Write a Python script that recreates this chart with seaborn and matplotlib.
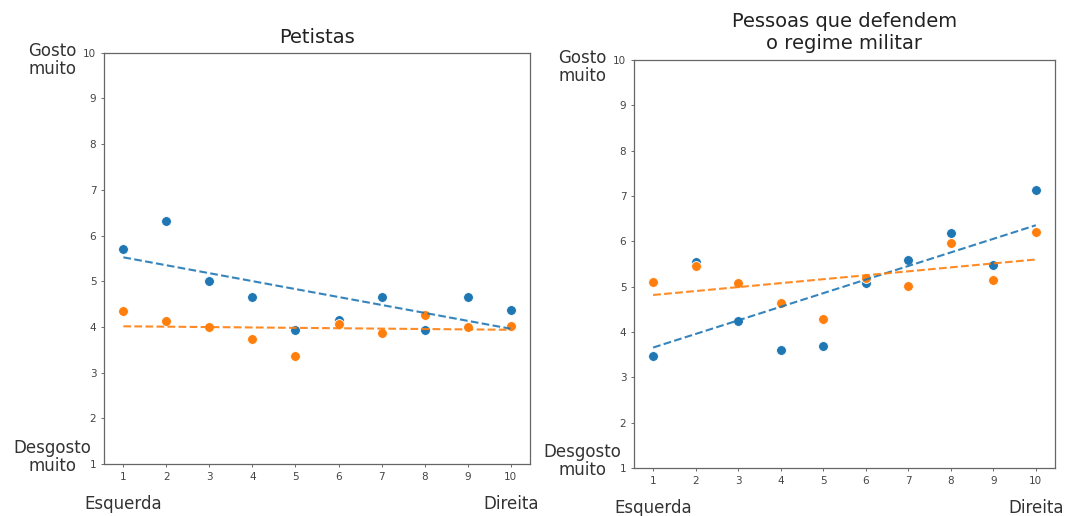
import matplotlib
matplotlib.use("Agg")
import matplotlib.pyplot as plt
import matplotlib.transforms as mtransforms
import seaborn as sns
import numpy as np
import pandas as pd

# ---- data ----
posicao = [1, 2, 3, 4, 5, 6, 7, 8, 9, 10]
petistas_a = [5.71, 6.31, 5.00, 4.66, 3.94, 4.16, 4.66, 3.93, 4.66, 4.38]
petistas_b = [4.34, 4.12, 3.99, 3.74, 3.36, 4.07, 3.87, 4.25, 4.00, 4.01]
militar_a = [3.48, 5.55, 4.25, 3.61, 3.70, 5.07, 5.59, 6.19, 5.48, 7.14]
militar_b = [5.11, 5.45, 5.07, 4.63, 4.28, 5.20, 5.01, 5.97, 5.15, 6.21]
titulos = ["Petistas", "Pessoas que defendem\no regime militar"]
yticks = [1, 2, 3, 4, 5, 6, 7, 8, 9, 10]
rotulo_topo = "Gosto\nmuito"
rotulo_base = "Desgosto\nmuito"
rotulo_esq = "Esquerda"
rotulo_dir = "Direita"

plt.rcParams['font.family'] = ['DejaVu Sans']

fig = plt.figure(figsize=(10.67, 5.16), dpi=100)
ax1 = fig.add_axes([104/1067, 1-464/516, 426/1067, 411.3/516])
ax2 = fig.add_axes([634/1067, 1-468/516, 421/1067, 408/516])

c_a = "#1f77b4"
c_b = "#ff7f0e"

paineis = [(ax1, petistas_a, petistas_b, titulos[0], 7),
           (ax2, militar_a, militar_b, titulos[1], 8)]

for ax, ya, yb, tit, pad in paineis:
    df = pd.DataFrame({"x": posicao, "a": ya, "b": yb})
    sns.scatterplot(data=df, x="x", y="a", ax=ax, color=c_a, s=50,
                    edgecolor="white", linewidth=0.6, zorder=3)
    sns.scatterplot(data=df, x="x", y="b", ax=ax, color=c_b, s=50,
                    edgecolor="white", linewidth=0.6, zorder=3)
    sns.regplot(data=df, x="x", y="a", ax=ax, scatter=False, ci=None,
                color=c_a, line_kws=dict(ls="--", lw=1.5, zorder=4, alpha=0.9))
    sns.regplot(data=df, x="x", y="b", ax=ax, scatter=False, ci=None,
                color=c_b, line_kws=dict(ls="--", lw=1.5, zorder=4, alpha=0.9))
    ax.set_xlim(0.55, 10.45)
    ax.set_ylim(1, 10)
    ax.set_xticks(posicao)
    ax.set_yticks(yticks)
    ax.set_xlabel("")
    ax.set_ylabel("")
    ax.tick_params(labelsize=7.5, length=2.5, width=0.6, colors="#555555",
                   labelcolor="#444444", pad=3)
    for sp in ax.spines.values():
        sp.set_color("#666666")
        sp.set_linewidth(0.9)
    ax.set_title(tit, fontsize=14, pad=pad, color="#222222")
    w_px = ax.get_position().width * 1067
    xoff = -52 / w_px
    tb = mtransforms.blended_transform_factory(ax.transAxes, ax.transData)
    ax.text(xoff, 9.84, rotulo_topo, transform=tb, ha="center", va="center",
            fontsize=12, color="#333333", linespacing=1.0)
    ax.text(xoff, 1.16, rotulo_base, transform=tb, ha="center", va="center",
            fontsize=12, color="#333333", linespacing=1.0)
    tx = mtransforms.blended_transform_factory(ax.transData, ax.transAxes)
    ax.text(posicao[0], -0.097, rotulo_esq, transform=tx, ha="center",
            va="center", fontsize=12, color="#333333")
    ax.text(posicao[-1], -0.097, rotulo_dir, transform=tx, ha="center",
            va="center", fontsize=12, color="#333333")

fig.savefig("out.png", dpi=100)
